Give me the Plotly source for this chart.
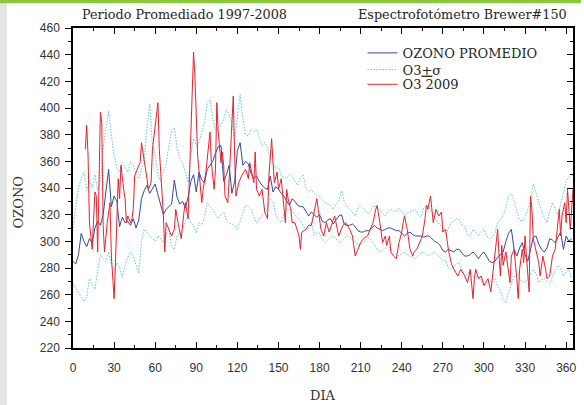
import plotly.graph_objects as go

# OZONO PROMEDIO (1997-2008 mean), every ~2 days
mean_days = list(range(0, 366, 2))
mean_vals = [285, 283, 290, 306, 300, 296, 302, 299, 310, 315, 312, 320, 337, 354, 326, 334, 330, 311, 318, 314,
             315, 312, 317, 310, 316, 332, 338, 342, 336, 340, 343, 335, 328, 320, 324, 326, 328, 346, 333, 328,
             330, 325, 333, 345, 350, 337, 352, 346, 344, 354, 357, 360, 366, 371, 372, 345, 350, 357, 336, 345,
             368, 374, 357, 360, 358, 351, 347, 349, 345, 342, 340, 339, 349, 337, 341, 339, 336, 334, 330, 327,
             332, 330, 327, 326, 326, 322, 319, 322, 320, 318, 320, 315, 314, 316, 317, 313, 316, 319, 320, 313,
             312, 312, 313, 311, 308, 307, 307, 308, 308, 310, 312, 310, 309, 308, 309, 310, 310, 309, 308, 308,
             306, 304, 306, 307, 305, 304, 304, 304, 303, 304, 304, 302, 300, 299, 297, 293, 292, 294, 293, 292,
             294, 294, 291, 289, 289, 290, 292, 290, 287, 290, 292, 288, 285, 284, 285, 288, 290, 292, 300, 306,
             309, 294, 289, 295, 299, 290, 285, 295, 303, 304, 298, 294, 292, 295, 302, 301, 299, 303, 307, 294,
             304, 300, 302]

# O3 + sigma / O3 - sigma (dotted cyan)
sig_days = list(range(0, 366, 2))
upper_vals = [310, 325, 340, 347, 352, 338, 345, 340, 350, 338, 345, 370, 385, 398, 380, 364, 355, 352, 359, 356,
              352, 360, 357, 350, 347, 354, 362, 385, 403, 372, 364, 350, 345, 352, 358, 372, 383, 385, 370, 362,
              359, 352, 344, 365, 377, 372, 374, 382, 389, 404, 406, 392, 384, 385, 387, 392, 399, 395, 389, 377,
              395, 410, 392, 380, 379, 384, 382, 384, 378, 372, 374, 370, 362, 359, 354, 356, 349, 348, 347, 350,
              349, 345, 342, 348, 350, 340, 337, 339, 336, 334, 334, 331, 329, 328, 327, 324, 328, 330, 338, 330,
              326, 324, 322, 319, 325, 327, 325, 322, 321, 324, 327, 325, 324, 321, 319, 322, 324, 323, 322, 325,
              322, 319, 321, 322, 323, 324, 320, 318, 325, 327, 325, 322, 317, 315, 312, 310, 305, 310, 314, 315,
              317, 316, 312, 311, 305, 304, 309, 307, 304, 307, 309, 304, 302, 303, 306, 314, 316, 319, 325, 334,
              336, 330, 322, 316, 315, 318, 324, 330, 343, 336, 329, 323, 318, 314, 322, 329, 324, 320, 328, 336,
              345, 348, 350]
lower_vals = [268, 265, 262, 258, 255, 258, 272, 268, 264, 278, 290, 287, 285, 292, 282, 278, 284, 280, 273, 282,
              288, 292, 289, 282, 276, 300, 309, 307, 304, 302, 300, 304, 302, 299, 305, 309, 296, 294, 304, 306,
              309, 315, 319, 314, 312, 306, 314, 312, 318, 329, 326, 324, 320, 317, 320, 322, 316, 314, 313, 312,
              309, 316, 321, 327, 326, 324, 318, 314, 317, 319, 322, 324, 332, 330, 320, 316, 314, 320, 324, 324,
              323, 320, 318, 315, 312, 309, 312, 314, 305, 307, 306, 301, 299, 301, 303, 304, 302, 299, 300, 302,
              304, 303, 301, 300, 297, 298, 299, 301, 303, 300, 298, 294, 292, 293, 295, 297, 294, 292, 290, 289,
              291, 292, 290, 289, 288, 287, 289, 291, 292, 290, 289, 291, 292, 290, 288, 285, 286, 280, 279, 281,
              283, 284, 279, 274, 276, 277, 273, 272, 274, 270, 267, 268, 269, 271, 272, 266, 263, 256, 254, 262,
              268, 274, 273, 272, 270, 269, 272, 275, 279, 276, 269, 271, 272, 270, 269, 274, 278, 282, 280, 274,
              277, 279, 272]

# O3 2009 (red)
y2009_days = [9, 10, 11, 12, 14, 16, 17, 18, 20, 21, 22, 23, 25, 27, 28, 30, 31, 32, 33, 34,
              35, 37, 38, 39, 40, 42, 43, 44, 45, 48, 49, 50, 52, 54, 55, 57, 58, 60, 62, 63,
              65, 66, 67, 68, 70, 72, 74, 75, 77, 79, 81, 82, 84, 86, 87, 88, 89, 90, 91, 94,
              95, 97, 99, 100, 101, 103, 104, 105, 106, 108, 109, 110, 111, 113, 114, 116, 117, 118, 119, 121,
              123, 126, 128, 129, 132, 133, 134, 136, 138, 140, 142, 143, 145, 146, 147, 149, 150, 152, 154, 155,
              156, 157, 159, 160, 162, 165, 166, 167, 170, 172, 174, 176, 178, 179, 181, 183, 185, 187, 189, 191,
              193, 194, 197, 199, 202, 204, 206, 208, 210, 212, 215, 217, 219, 221, 222, 224, 226, 228, 229, 231,
              232, 234, 236, 238, 240, 241, 242, 244, 246, 248, 249, 251, 253, 255, 257, 258, 259, 261, 262, 263,
              265, 267, 269, 270, 272, 274, 276, 278, 281, 283, 286, 288, 290, 292, 293, 294, 296, 298, 300, 301,
              303, 305, 307, 308, 310, 311, 312, 313, 314, 316, 317, 319, 320, 322, 324, 325, 326, 328, 329, 330,
              331, 333, 334, 335, 336, 338, 340, 341, 343, 345, 346, 348, 350, 352, 354, 355, 356, 357, 359, 360,
              361, 362, 363, 365]
y2009_vals = [369, 387, 364, 314, 294, 337, 334, 292, 397, 389, 312, 292, 314, 329, 289, 257, 284, 324, 347, 332,
              357, 339, 332, 314, 319, 314, 317, 324, 349, 357, 359, 374, 362, 347, 339, 344, 369, 389, 404, 369,
              339, 319, 292, 314, 309, 304, 309, 324, 312, 302, 322, 329, 317, 372, 414, 442, 424, 389, 364, 329,
              339, 352, 369, 382, 359, 339, 354, 404, 382, 359, 367, 357, 334, 329, 347, 384, 409, 364, 334, 344,
              349, 354, 347, 359, 344, 367, 339, 334, 339, 322, 317, 349, 377, 359, 344, 352, 339, 347, 324, 314,
              339, 332, 324, 314, 314, 304, 294, 307, 309, 312, 312, 322, 332, 324, 309, 304, 314, 307, 314, 319,
              309, 304, 312, 314, 309, 304, 289, 294, 299, 302, 304, 309, 314, 324, 327, 314, 299, 304, 297, 304,
              292, 289, 287, 299, 307, 314, 319, 309, 294, 289, 292, 294, 299, 304, 317, 327, 324, 334, 324, 314,
              324, 319, 322, 307, 309, 294, 284, 279, 274, 279, 274, 269, 279, 257, 272, 279, 272, 274, 267, 269,
              272, 262, 282, 294, 309, 289, 274, 297, 282, 292, 284, 269, 289, 294, 272, 257, 279, 294, 284, 304,
              289, 262, 334, 324, 302, 294, 284, 274, 289, 279, 272, 274, 289, 294, 314, 324, 304, 319, 329, 314,
              339, 324, 309, 339]

x_ticks = list(range(0, 361, 30))
y_ticks = list(range(220, 461, 20))

serif = "DejaVu Serif"
sans = "Liberation Sans"
txt = "#262626"


def legend_row(y):
    # one legend per row so the rows sit as close together as in the original
    return dict(x=0.579, y=y, xanchor="left", yanchor="middle", bgcolor="rgba(0,0,0,0)",
                borderwidth=0, itemwidth=30, font=dict(family=serif, size=13, color=txt))


fig = go.Figure()
fig.add_trace(go.Scatter(x=mean_days, y=mean_vals, mode="lines", name="OZONO PROMEDIO",
                         line=dict(color="#34479f", width=1), legend="legend"))
fig.add_trace(go.Scatter(x=sig_days, y=upper_vals, mode="lines", name="O3<u>+</u>σ",
                         line=dict(color="#5cc8dc", width=1, dash="1.5px,1.5px"), legend="legend2",
                         legendgroup="s"))
fig.add_trace(go.Scatter(x=sig_days, y=lower_vals, mode="lines", name="O3<u>+</u>σ", showlegend=False,
                         line=dict(color="#5cc8dc", width=1, dash="1.5px,1.5px"), legend="legend2",
                         legendgroup="s"))
fig.add_trace(go.Scatter(x=y2009_days, y=y2009_vals, mode="lines", name="O3 2009",
                         line=dict(color="#e8222c", width=1), legend="legend3"))
# empty trace so the right-hand axis (inward ticks) gets drawn
fig.add_trace(go.Scatter(x=[None], y=[None], yaxis="y2", showlegend=False, hoverinfo="skip"))

fig.update_layout(
    width=584, height=405,
    margin=dict(l=73, r=8, t=28, b=57),
    paper_bgcolor="white", plot_bgcolor="white",
    font=dict(family=sans, size=12, color=txt),
    hovermode=False,
    showlegend=True,
    legend=legend_row(0.922),
    legend2=legend_row(0.870),
    legend3=legend_row(0.824),
    xaxis=dict(range=[0, 365], tickvals=x_ticks, ticks="inside", ticklen=6, tickwidth=1.2,
               tickcolor="black", showline=True, linecolor="black", linewidth=1.5, mirror="ticks",
               showgrid=False, zeroline=False, ticklabelstandoff=8,
               minor=dict(dtick=15, tick0=0, ticks="inside", ticklen=3, tickcolor="black", showgrid=False),
               tickfont=dict(family=sans, size=12, color="#333333")),
    yaxis=dict(range=[220, 460], tickvals=y_ticks, ticks="outside", ticklen=6, tickwidth=1.2,
               tickcolor="black", showline=True, linecolor="black", linewidth=1.5, mirror=False,
               showgrid=False, zeroline=False, ticklabelstandoff=3,
               minor=dict(dtick=10, tick0=220, ticks="outside", ticklen=3, tickcolor="black", showgrid=False),
               tickfont=dict(family=sans, size=12, color="#333333")),
    yaxis2=dict(range=[220, 460], overlaying="y", side="right", tickvals=y_ticks, ticks="inside",
                ticklen=6, tickwidth=1.2, tickcolor="black", showline=True, linecolor="black",
                linewidth=1.5, showticklabels=False, showgrid=False, zeroline=False,
                minor=dict(dtick=10, tick0=220, ticks="inside", ticklen=3, tickcolor="black", showgrid=False)),
    shapes=[
        dict(type="rect", xref="paper", yref="paper", x0=-0.146, x1=-0.132, y0=-0.18, y1=1.09,
             fillcolor="#e4e6e4", line=dict(width=0), layer="below"),
        dict(type="rect", xref="paper", yref="paper", x0=-0.146, x1=1.016, y0=1.0775, y1=1.09,
             fillcolor="#8cc63f", line=dict(width=0), layer="below"),
    ],
    annotations=[
        dict(text="Periodo Promediado 1997-2008", x=0.222, y=1.043, xref="paper", yref="paper",
             xanchor="center", yanchor="middle", showarrow=False,
             font=dict(family=serif, size=12.8, color=txt)),
        dict(text="Espectrofotómetro Brewer#150", x=0.992, y=1.043, xref="paper", yref="paper",
             xanchor="right", yanchor="middle", showarrow=False,
             font=dict(family=serif, size=12.8, color=txt)),
        dict(text="OZONO", x=-0.110, y=0.455, xref="paper", yref="paper", textangle=-90,
             xanchor="center", yanchor="middle", showarrow=False,
             font=dict(family=serif, size=13, color="#333333")),
        dict(text="DIA", x=0.5, y=-0.148, xref="paper", yref="paper",
             xanchor="center", yanchor="middle", showarrow=False,
             font=dict(family=serif, size=13, color="#333333")),
    ],
)

fig.write_html("out.html", config={"displayModeBar": False},
               post_script="document.body.style.margin='0px';")
